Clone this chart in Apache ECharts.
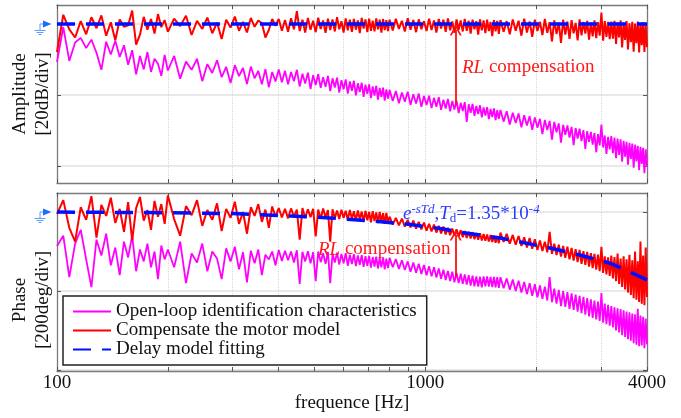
<!DOCTYPE html>
<html>
<head>
<meta charset="utf-8">
<script src="https://cdn.jsdelivr.net/npm/echarts@6/dist/echarts.min.js"></script>
<style>
  html, body { margin: 0; padding: 0; background: #fff; }
  #chart { width: 681px; height: 418px; }
</style>
</head>
<body>
<div id="chart"></div>
<script>
// frequency points (Hz) shared by the measured curves
const freqs = [
  100, 104, 108, 112, 116, 120, 124, 128, 132, 136, 140, 144, 148, 152, 156, 160, 164, 168, 172, 176, 180, 184, 188, 192, 196,
  200, 208, 216, 224, 232, 240, 248, 256, 264, 272, 280, 288, 296, 304, 312, 320, 328, 336, 344, 352, 360, 368, 376, 384, 392,
  400, 408, 416, 424, 432, 440, 448, 456, 464, 472, 480, 488, 496, 504, 512, 520, 528, 536, 544, 552, 560, 568, 576, 584, 592,
  600, 608, 616, 624, 632, 640, 648, 656, 664, 672, 680, 688, 696, 704, 712, 720, 728, 736, 744, 752, 760, 768, 776, 784, 792,
  800, 816, 832, 848, 864, 880, 896, 912, 928, 944, 960, 976, 992, 1008, 1024, 1040, 1056, 1072, 1088, 1104, 1120, 1136, 1152, 1168, 1184,
  1200, 1216, 1232, 1248, 1264, 1280, 1296, 1312, 1328, 1344, 1360, 1376, 1392, 1408, 1424, 1440, 1456, 1472, 1488, 1504, 1520, 1536, 1552, 1568, 1584,
  1600, 1632, 1664, 1696, 1728, 1760, 1792, 1824, 1856, 1888, 1920, 1952, 1984, 2016, 2048, 2080, 2112, 2144, 2176, 2208, 2240, 2272, 2304, 2336, 2368,
  2400, 2432, 2464, 2496, 2528, 2560, 2592, 2624, 2656, 2688, 2720, 2752, 2784, 2816, 2848, 2880, 2912, 2944, 2976, 3008, 3040, 3072, 3104, 3136, 3168,
  3200, 3232, 3264, 3296, 3328, 3360, 3392, 3424, 3456, 3488, 3520, 3552, 3584, 3616, 3648, 3680, 3712, 3744, 3776, 3808, 3840, 3872, 3904, 3936, 3968, 4000
];

// amplitude [dB]
const ampOpenLoop = [
  -10.7, -0.9, -10.4, -5.2, -3.9, -6.8, -4.4, -8.1, -12.9, -5.0, -8.6, -4.7, -9.3, -6.0, -11.5, -7.4, -14.2, -9.0, -12.8, -7.9, -13.5, -9.8, -11.2, -14.6, -8.7,
  -13.1, -9.0, -15.4, -10.6, -12.9, -9.8, -16.1, -11.3, -13.8, -10.2, -15.0, -12.1, -16.6, -11.6, -14.7, -12.4, -16.9, -12.0, -15.3, -13.2, -17.0, -12.7, -17.8, -13.5, -16.2,
  -12.8, -16.4, -13.2, -17.0, -13.5, -16.1, -12.9, -17.6, -14.0, -16.8, -13.7, -18.3, -14.4, -17.2, -14.1, -18.0, -15.0, -17.7, -14.6, -18.9, -15.3, -17.9, -15.1, -19.3, -15.8,
  -18.4, -15.6, -19.6, -16.2, -18.8, -16.0, -20.1, -16.7, -19.2, -16.5, -20.5, -17.1, -19.7, -17.0, -20.9, -17.6, -20.2, -17.4, -21.3, -18.0, -20.6, -17.9, -21.6, -18.4, -21.0,
  -18.6, -21.7, -18.9, -22.3, -19.3, -21.9, -19.1, -22.8, -19.8, -22.4, -19.6, -23.3, -20.3, -22.8, -20.2, -23.7, -20.8, -23.3, -20.6, -24.2, -21.3, -23.8, -21.1, -24.6, -21.7,
  -24.1, -21.6, -25.1, -22.2, -24.5, -22.0, -27.6, -22.6, -25.0, -22.5, -25.9, -23.1, -25.4, -22.9, -26.3, -23.5, -25.8, -23.4, -26.8, -23.9, -26.2, -23.8, -27.1, -24.3, -26.7,
  -24.2, -27.5, -24.6, -28.3, -25.0, -27.9, -25.2, -29.1, -25.7, -28.6, -26.0, -29.8, -26.3, -29.2, -26.7, -31.0, -27.0, -29.9, -27.3, -32.6, -27.6, -30.5, -28.0, -33.4, -28.4,
  -31.2, -28.6, -32.0, -29.0, -34.1, -29.3, -32.3, -29.5, -33.0, -29.9, -35.2, -30.2, -33.2, -30.4, -34.0, -30.7, -36.1, -31.0, -34.2, -28.3, -34.8, -31.4, -36.6, -31.8, -35.3,
  -31.6, -36.4, -32.0, -37.8, -32.3, -36.9, -32.5, -38.8, -32.9, -37.4, -33.2, -39.6, -33.5, -38.0, -33.7, -40.5, -34.0, -38.7, -34.3, -41.2, -34.6, -39.4, -34.9, -42.0, -35.3, -40.1
];
const ampCompensated = [
  -7.9, 2.6, -1.5, -3.8, 0.8, -2.9, 1.9, -1.2, 2.4, -3.3, 0.5, -4.6, 1.3, -0.8, -0.4, 3.8, -5.8, -3.0, 2.0, -1.6, 1.4, -2.7, 2.8, -0.9, 1.1,
  -2.2, 1.5, -0.6, 2.3, -3.1, 0.9, -1.4, 1.8, -2.6, 0.4, -4.2, 1.2, -1.0, 2.1, -1.9, 0.6, -2.4, 1.7, -0.8, 1.0, 0.2, -3.8, -1.7, 1.4, -0.5,
  1.4, -1.9, 1.1, -2.2, 1.6, -1.5, 3.6, -2.0, 1.2, -2.4, 1.7, -1.6, 0.9, -2.3, 1.8, -1.4, 1.0, -2.5, 1.5, -1.7, 1.3, -2.1, 1.9, -1.5, 0.8,
  -2.4, 1.6, -1.8, 1.2, -2.2, 1.4, -1.6, 1.0, -2.6, 1.7, -1.3, 1.3, -2.3, 1.5, -1.9, 0.9, -2.1, 1.6, -1.5, 1.2, -2.4, 1.4, -1.7, 1.1, -2.0,
  1.2, -1.8, 1.5, -1.4, 0.9, -2.1, 1.6, -1.6, 1.1, -2.3, 1.3, -1.5, 0.8, -2.0, 1.5, -1.7, 1.0, -2.4, 1.4, -1.3, 1.2, -2.2, 1.6, -1.8, 0.7,
  -2.5, 1.3, -1.6, 1.0, -2.1, 1.4, -1.9, 0.9, -2.7, 1.2, -1.5, 0.8, -3.0, 1.3, -1.8, 1.0, -2.6, 1.2, -2.0, 0.6, -3.4, 1.1, -2.1, 0.9, -2.8,
  1.1, -2.2, 0.8, -2.9, 1.3, -1.9, 0.9, -3.3, 1.5, -2.4, 0.7, -3.6, 1.2, -2.0, 0.6, -3.1, 1.4, -2.5, 0.5, -4.9, 1.0, -2.8, 0.4, -5.3, 1.2,
  -3.0, 0.7, -4.2, 1.1, -2.6, 0.3, -4.6, 1.3, -3.2, 0.6, -2.7, 0.9, -4.4, 0.4, -3.5, 1.0, -4.0, 0.5, -3.3, 3.2, -4.7, 0.8, -3.6, 0.6, -4.3,
  0.7, -4.1, 0.9, -5.6, 0.4, -3.8, 1.0, -6.6, 0.3, -4.5, 0.8, -7.2, 0.2, -5.1, 0.6, -7.8, 0.1, -5.4, 0.7, -8.0, 0.3, -6.0, 0.5, -7.9, -0.2, -6.5
];

// phase [deg]
const phaseOpenLoop = [
  -86, -60, -165, -80, -45, -120, -190, -70, -110, -55, -135, -90, -160, -75, -115, -60, -150, -95, -125, -80, -140, -100, -170, -85, -120,
  -95, -140, -75, -180, -105, -128, -80, -150, -100, -118, -170, -92, -125, -88, -145, -102, -178, -98, -130, -95, -160, -108, -120, -100, -135,
  -96, -124, -98, -122, -100, -128, -97, -182, -101, -125, -99, -130, -102, -175, -100, -127, -104, -131, -101, -180, -105, -128, -103, -133, -106,
  -130, -104, -136, -108, -132, -107, -137, -110, -134, -109, -139, -112, -136, -111, -141, -114, -138, -113, -143, -116, -140, -115, -145, -118, -142,
  -116, -140, -119, -144, -122, -147, -125, -151, -128, -154, -131, -157, -134, -160, -137, -163, -140, -166, -143, -169, -146, -172, -149, -175, -151,
  -178, -154, -180, -156, -182, -158, -184, -160, -186, -161, -188, -163, -189, -164, -191, -163, -188, -163, -189, -164, -190, -164, -191, -165, -192,
  -165, -193, -168, -197, -171, -200, -174, -204, -177, -208, -180, -212, -183, -216, -186, -220, -189, -224, -165, -228, -194, -232, -197, -238, -200,
  -240, -203, -245, -206, -248, -209, -252, -212, -256, -215, -260, -218, -264, -221, -268, -224, -272, -227, -276, -205, -280, -232, -284, -235, -288,
  -238, -292, -241, -300, -244, -305, -246, -312, -249, -316, -252, -322, -254, -326, -257, -332, -259, -336, -245, -340, -262, -338, -265, -345, -270, -335
];
const phaseCompensated = [
  -5, 30, -40, -75, 12, -20, 40, -65, 18, -10, 36, -28, 8, -50, 25, -72, 10, 38, -22, 5, -45, 28, -12, 20, -30,
  42, -18, -60, 15, -8, 30, -35, 5, -20, 22, -48, 8, -15, 26, -30, 0, -55, 12, -10, 20, -25, 6, -40, 14, -12,
  10, -14, 8, -16, 9, -12, 6, -70, 10, -15, 7, -13, 8, -62, 6, -17, 9, -14, 5, -75, 7, -16, 4, -18, 6,
  -15, 3, -20, 5, -17, 2, -22, 4, -19, 1, -24, 3, -21, 0, -26, 2, -23, -1, -28, 0, -25, -3, -30, -2, -27,
  -12, -32, -15, -34, -17, -37, -20, -39, -22, -42, -25, -44, -27, -47, -30, -49, -32, -52, -35, -54, -37, -57, -40, -59, -42,
  -60, -44, -62, -46, -64, -48, -66, -50, -67, -51, -69, -53, -70, -54, -72, -56, -73, -57, -75, -58, -76, -60, -78, -61, -79,
  -52, -76, -55, -80, -58, -83, -61, -86, -64, -90, -66, -93, -69, -96, -72, -99, -75, -102, -50, -106, -80, -109, -83, -113, -86,
  -116, -88, -120, -91, -123, -94, -127, -96, -131, -99, -134, -101, -138, -104, -142, -106, -146, -108, -150, -88, -154, -112, -158, -115, -162,
  -110, -168, -114, -175, -105, -182, -118, -190, -112, -196, -120, -204, -108, -210, -122, -218, -100, -222, -125, -228, -75, -232, -110, -236, -90, -215
];

// delay model fit
const fitFreqs = [100, 200, 300, 430, 550, 700, 900, 1120, 1220, 1600, 2180, 2630, 3160, 3600, 4000];
const ampFit = [0, 0, 0, 0, 0, 0, 0, 0, 0, 0, 0, 0, 0, 0, 0];
const phaseFit = [0, -2, -4, -10, -15, -22, -31, -43, -50, -66, -91, -109, -129, -152, -172];

// axes
const xTickValues = [100, 200, 300, 400, 500, 600, 700, 800, 900, 1000, 2000, 3000, 4000];
const xLabelValues = [100, 1000, 4000];
const ampTicks = [-40, -20, 0];
const phaseTicks = [-400, -200, 0];

// RL compensation arrows [Hz, from, to]
const ampArrow = [1210, -22.8, -1.7];
const phaseArrow = [1210, -164, -58];

const names = ['Open-loop identification characteristics', 'Compensate the motor model', 'Delay model fitting'];
const serif = 'Liberation Serif';
const pair = (xs, ys) => xs.map((x, i) => [x, ys[i]]);
const arrowHead = 'path://M0,10 L5,0 L10,10 L8.4,10 L5,3.2 L1.6,10 Z';

function xAxisFor(grid, pos, labels) {
  return {
    type: 'log', gridIndex: grid, position: pos, min: 100, max: 4000, logBase: 10,
    axisLine: { show: true, onZero: false, lineStyle: { color: '#7a7a7a', width: 1.3 } },
    axisTick: { show: true, inside: true, length: 4, customValues: xTickValues, lineStyle: { color: '#555' } },
    axisLabel: labels ? {
      show: true, customValues: xLabelValues, fontFamily: serif, fontSize: 19, color: '#111', margin: 3,
      formatter: v => String(Math.round(v))
    } : { show: false },
    splitLine: { show: pos === 'bottom', lineStyle: { color: '#d6d6d6', type: 'dotted', width: 1 } },
    minorTick: { show: false }
  };
}

function yAxisFor(grid, pos, min, max, ticks, name, pad) {
  return {
    type: 'value', gridIndex: grid, position: pos, min: min, max: max,
    name: name, nameLocation: 'middle', nameGap: 2, nameRotate: 90,
    nameTextStyle: { fontFamily: serif, fontSize: 19, color: '#111', lineHeight: 23, padding: pad },
    axisLine: { show: true, onZero: false, lineStyle: { color: '#7a7a7a', width: 1.3 } },
    axisTick: { show: true, inside: true, length: 4, customValues: ticks, lineStyle: { color: '#555' } },
    axisLabel: { show: false, customValues: ticks },
    splitLine: { show: pos === 'left', lineStyle: { color: '#e2e2e2', width: 1.5 } }
  };
}

function lineSeries(name, color, width, x, y, xi, yi, dash) {
  return {
    name: name, type: 'line', xAxisIndex: xi, yAxisIndex: yi,
    data: pair(x, y), showSymbol: false, symbol: 'none',
    lineStyle: { color: color, width: width, type: dash || 'solid' },
    itemStyle: { color: color }, silent: true
  };
}

function arrowLine(a) {
  return {
    silent: true, symbol: ['none', arrowHead], symbolSize: [12, 11],
    label: { show: false },
    lineStyle: { color: '#ff1010', width: 1.8, type: 'solid' },
    data: [[{ coord: [a[0], a[1]] }, { coord: [a[0], a[2]] }]]
  };
}

const chart = echarts.init(document.getElementById('chart'));
const option = {
  animation: false,
  backgroundColor: '#fff',
  grid: [
    { left: 57, right: 34, top: 5, height: 178 },
    { left: 57, right: 34, top: 193, height: 178 }
  ],
  xAxis: [
    xAxisFor(0, 'bottom', false),
    xAxisFor(0, 'top', false),
    Object.assign(xAxisFor(1, 'bottom', true), {
      name: 'frequence [Hz]', nameLocation: 'middle', nameGap: 20,
      nameTextStyle: { fontFamily: serif, fontSize: 19, color: '#111' }
    }),
    xAxisFor(1, 'top', false)
  ],
  yAxis: [
    yAxisFor(0, 'left', -44.79, 5.35, ampTicks, 'Amplitude\n[20dB/div]', 0),
    yAxisFor(0, 'right', -44.79, 5.35, ampTicks, '', 0),
    yAxisFor(1, 'left', -402.5, 48.1, phaseTicks, 'Phase\n[200deg/div]', [0, 36, 0, 0]),
    yAxisFor(1, 'right', -402.5, 48.1, phaseTicks, '', 0)
  ],
  legend: {
    data: names, selectedMode: false, orient: 'vertical',
    left: 63, top: 296, itemWidth: 38, itemHeight: 14, itemGap: 0,
    padding: [6, 10, 6, 9],
    borderColor: '#222', borderWidth: 1.5, backgroundColor: '#fff',
    itemStyle: { opacity: 0 },
    textStyle: { fontFamily: serif, fontSize: 19, color: '#111', lineHeight: 19 }
  },
  series: [
    lineSeries(names[0], '#ff00ff', 1.8, freqs, ampOpenLoop, 0, 0),
    Object.assign(lineSeries(names[1], '#ff0000', 2, freqs, ampCompensated, 0, 0), { markLine: arrowLine(ampArrow) }),
    lineSeries(names[2], '#0010ff', 3.5, fitFreqs, ampFit, 0, 0, [18, 11]),
    lineSeries(names[0], '#ff00ff', 1.8, freqs, phaseOpenLoop, 2, 2),
    Object.assign(lineSeries(names[1], '#ff0000', 2, freqs, phaseCompensated, 2, 2), { markLine: arrowLine(phaseArrow) }),
    lineSeries(names[2], '#0010ff', 3.5, fitFreqs, phaseFit, 2, 2, [18, 11])
  ]
};
chart.setOption(option);

// ground markers at the 0 level, and annotation texts
function ground(y) {
  const light = '#5c9cff';
  return [
    { type: 'polygon', shape: { points: [[43, y - 3.5], [51.5, y], [43, y + 3.5]] }, style: { fill: '#1e6cff' } },
    { type: 'polyline', shape: { points: [[43, y], [40, y], [40, y + 6.5]] }, style: { stroke: light, lineWidth: 1, fill: null } },
    { type: 'line', shape: { x1: 34.5, y1: y + 6.5, x2: 45.5, y2: y + 6.5 }, style: { stroke: light, lineWidth: 1 } },
    { type: 'line', shape: { x1: 36.5, y1: y + 8.5, x2: 43.5, y2: y + 8.5 }, style: { stroke: light, lineWidth: 1 } },
    { type: 'line', shape: { x1: 38.5, y1: y + 10.5, x2: 41.5, y2: y + 10.5 }, style: { stroke: light, lineWidth: 1 } }
  ];
}
const y0a = chart.convertToPixel({ yAxisIndex: 0 }, 0);
const y0p = chart.convertToPixel({ yAxisIndex: 2 }, 0);
const rlRich = { i: { fontStyle: 'italic', fontFamily: serif, fontSize: 19, fill: '#ff1a1a' } };

chart.setOption({
  graphic: [
    ...ground(y0a),
    ...ground(y0p),
    {
      type: 'text', left: 462, top: 58, z: 10,
      style: { text: '{i|RL} compensation', rich: rlRich, fontFamily: serif, fontSize: 19, fill: '#ff1a1a' }
    },
    {
      type: 'text', left: 318, top: 240, z: 10,
      style: { text: '{i|RL} compensation', rich: rlRich, fontFamily: serif, fontSize: 19, fill: '#ff1a1a' }
    },
    {
      type: 'text', left: 403, top: 203, z: 10,
      style: {
        text: '{i|e}{sup|-sTd}{n|,}{i|T}{sub|d}{n|=1.35*10}{sup|-4}',
        fill: '#2a3cff', fontFamily: serif, fontSize: 19,
        rich: {
          i: { fontStyle: 'italic', fontFamily: serif, fontSize: 19, lineHeight: 22, fill: '#2a3cff' },
          n: { fontFamily: serif, fontSize: 19, lineHeight: 22, fill: '#2a3cff' },
          sup: { fontStyle: 'italic', fontFamily: serif, fontSize: 13, lineHeight: 13, verticalAlign: 'top', fill: '#2a3cff' },
          sub: { fontFamily: serif, fontSize: 13, lineHeight: 13, verticalAlign: 'bottom', fill: '#2a3cff' }
        }
      }
    }
  ]
});

window.addEventListener('resize', () => chart.resize());
</script>
</body>
</html>
